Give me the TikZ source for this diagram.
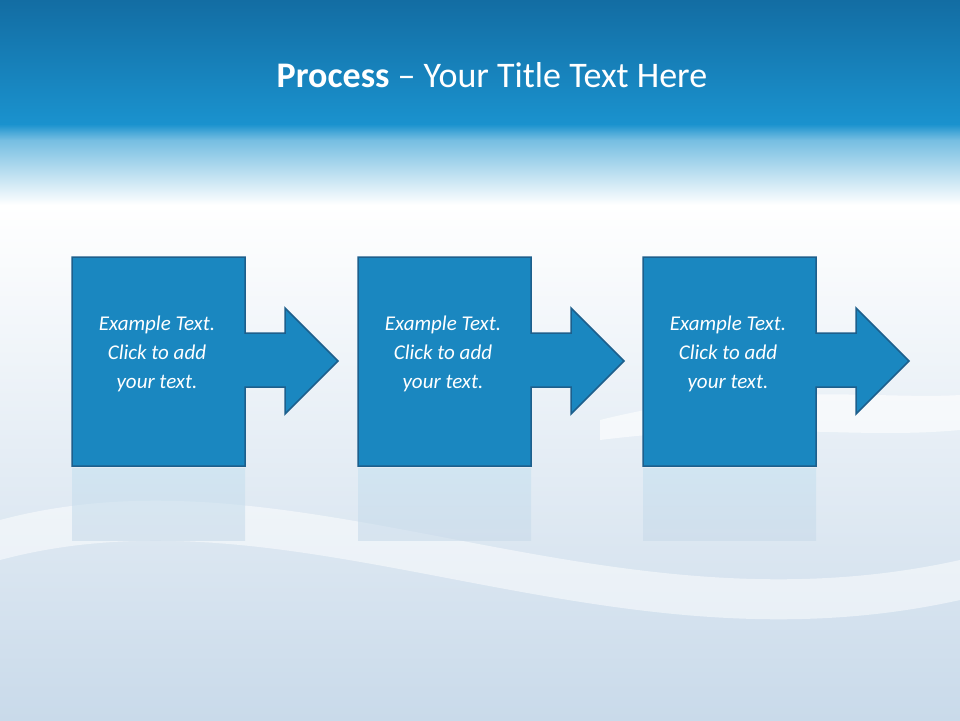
\documentclass[tikz,border=0pt]{standalone}
\usepackage{fontspec}
\setmainfont{Carlito}
\begin{document}
\begin{tikzpicture}[x=1pt,y=-1pt,
  stepshape/.style={fill=boxblue,draw=boxedge,line width=1.5pt,line join=miter},
  steptext/.style={text=white,font=\fontsize{21}{29}\selectfont\itshape,align=center}]
\definecolor{boxblue}{HTML}{1A87C0}
\definecolor{boxedge}{HTML}{1D5F8C}
\definecolor{topdark}{HTML}{136DA3}
\definecolor{topmid}{HTML}{1A92CE}
\definecolor{lowblue}{HTML}{C9DAEA}
\useasboundingbox (0,0) rectangle (960,720);
\shade[top color=topdark,bottom color=topmid] (0,0) rectangle (960,124);
\shade[top color=topmid,bottom color=topmid!60] (0,124) rectangle (960,140);
\shade[top color=topmid!60,bottom color=white] (0,140) rectangle (960,205);
\shade[top color=white,bottom color=lowblue] (0,205) rectangle (960,720);
\fill[white,opacity=0.5] (0,520) .. controls (300,440) and (600,640) .. (960,560) -- (960,600) .. controls (600,680) and (300,480) .. (0,560) -- cycle;
\fill[white,opacity=0.6] (600,420) .. controls (760,380) and (880,400) .. (960,395) -- (960,430) .. controls (850,440) and (760,420) .. (600,440) -- cycle;
\node[text=white,font=\fontsize{36}{42}\selectfont] (title) at (492,75) {\textbf{Process} -- Your Title Text Here};
\foreach \i/\dx in {1/0,2/286,3/571}{
  \begin{scope}[xshift=\dx]
    \shade[top color=boxblue!25,bottom color=lowblue,opacity=0.6] (72,468) rectangle (245,540);
    \draw[stepshape] (72,257) -- (245,257) -- (245,333) -- (285,333) -- (285,308) -- (338,361) -- (285,414) -- (285,387) -- (245,387) -- (245,466) -- (72,466) -- cycle;
    \node[steptext] (t\i) at (157,354) {Example Text.\\Click to add\\your text.};
  \end{scope}
}
\end{tikzpicture}
\end{document}
